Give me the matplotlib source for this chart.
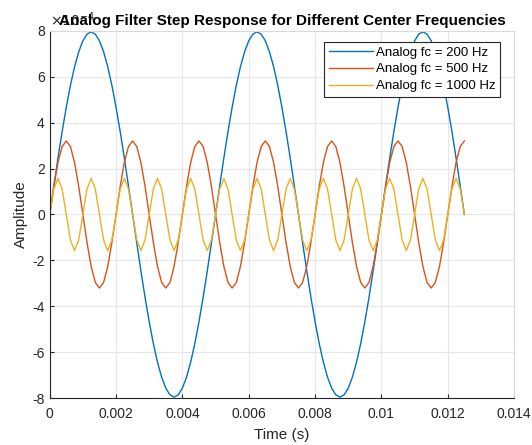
import matplotlib
matplotlib.use("Agg")
import matplotlib.pyplot as plt
import numpy as np

plt.rcParams['font.family'] = ['Liberation Sans', 'DejaVu Sans']
plt.rcParams['axes.unicode_minus'] = False

# sample times (s), 8 kHz sampling
fs = 8000
n_samples = 101

# Analog fc = 200 Hz (x1e-4)
y_200 = [0, 1.24, 2.46, 3.61, 4.67, 5.62, 6.43, 7.08, 7.56, 7.85,
         7.95, 7.85, 7.56, 7.08, 6.43, 5.62, 4.67, 3.61, 2.46, 1.24,
         0, -1.24, -2.46, -3.61, -4.67, -5.62, -6.43, -7.08, -7.56, -7.85,
         -7.95, -7.85, -7.56, -7.08, -6.43, -5.62, -4.67, -3.61, -2.46, -1.24,
         0, 1.24, 2.46, 3.61, 4.67, 5.62, 6.43, 7.08, 7.56, 7.85,
         7.95, 7.85, 7.56, 7.08, 6.43, 5.62, 4.67, 3.61, 2.46, 1.24,
         0, -1.24, -2.46, -3.61, -4.67, -5.62, -6.43, -7.08, -7.56, -7.85,
         -7.95, -7.85, -7.56, -7.08, -6.43, -5.62, -4.67, -3.61, -2.46, -1.24,
         0, 1.24, 2.46, 3.61, 4.67, 5.62, 6.43, 7.08, 7.56, 7.85,
         7.95, 7.85, 7.56, 7.08, 6.43, 5.62, 4.67, 3.61, 2.46, 1.24,
         0]

# Analog fc = 500 Hz
y_500 = [0, 1.22, 2.26, 2.96, 3.2, 2.96, 2.26, 1.22,
         0, -1.22, -2.26, -2.96, -3.2, -2.96, -2.26, -1.22,
         0, 1.22, 2.26, 2.96, 3.2, 2.96, 2.26, 1.22,
         0, -1.22, -2.26, -2.96, -3.2, -2.96, -2.26, -1.22,
         0, 1.22, 2.26, 2.96, 3.2, 2.96, 2.26, 1.22,
         0, -1.22, -2.26, -2.96, -3.2, -2.96, -2.26, -1.22,
         0, 1.22, 2.26, 2.96, 3.2, 2.96, 2.26, 1.22,
         0, -1.22, -2.26, -2.96, -3.2, -2.96, -2.26, -1.22,
         0, 1.22, 2.26, 2.96, 3.2, 2.96, 2.26, 1.22,
         0, -1.22, -2.26, -2.96, -3.2, -2.96, -2.26, -1.22,
         0, 1.22, 2.26, 2.96, 3.2, 2.96, 2.26, 1.22,
         0, -1.22, -2.26, -2.96, -3.2, -2.96, -2.26, -1.22,
         0, 1.22, 2.26, 2.96, 3.2]

# Analog fc = 1000 Hz
y_1000 = [0, 1.11, 1.57, 1.11, 0, -1.11, -1.57, -1.11,
          0, 1.11, 1.57, 1.11, 0, -1.11, -1.57, -1.11,
          0, 1.11, 1.57, 1.11, 0, -1.11, -1.57, -1.11,
          0, 1.11, 1.57, 1.11, 0, -1.11, -1.57, -1.11,
          0, 1.11, 1.57, 1.11, 0, -1.11, -1.57, -1.11,
          0, 1.11, 1.57, 1.11, 0, -1.11, -1.57, -1.11,
          0, 1.11, 1.57, 1.11, 0, -1.11, -1.57, -1.11,
          0, 1.11, 1.57, 1.11, 0, -1.11, -1.57, -1.11,
          0, 1.11, 1.57, 1.11, 0, -1.11, -1.57, -1.11,
          0, 1.11, 1.57, 1.11, 0, -1.11, -1.57, -1.11,
          0, 1.11, 1.57, 1.11, 0, -1.11, -1.57, -1.11,
          0, 1.11, 1.57, 1.11, 0, -1.11, -1.57, -1.11,
          0, 1.11, 1.57, 1.11, 0]

labels = ['Analog fc = 200 Hz', 'Analog fc = 500 Hz', 'Analog fc = 1000 Hz']
colors = ['#0072BD', '#D95319', '#EDB120']

t = np.arange(n_samples) / fs

fig = plt.figure(figsize=(5.32, 4.45), dpi=100)
ax = fig.add_axes([0.0934, 0.105, 0.873, 0.826])

for y, lab, c in zip([y_200, y_500, y_1000], labels, colors):
    ax.plot(t, y, color=c, lw=1.0, label=lab)

ax.set_xlim(0, 0.014)
ax.set_ylim(-8, 8)
ax.set_xticks([0, 0.002, 0.004, 0.006, 0.008, 0.01, 0.012, 0.014])
ax.set_xticklabels(['0', '0.002', '0.004', '0.006', '0.008', '0.01', '0.012', '0.014'])
ax.set_yticks(range(-8, 9, 2))
ax.grid(True, color='#e6e6e6', lw=0.8)
ax.set_axisbelow(True)
ax.tick_params(direction='in', length=3, labelsize=10, colors='#262626', width=0.8)
ax.tick_params(axis='x', pad=6)
for s in ['left', 'bottom']:
    ax.spines[s].set_color('#262626')
    ax.spines[s].set_linewidth(0.8)
for s in ['top', 'right']:
    ax.spines[s].set_color('#d9d9d9')
    ax.spines[s].set_linewidth(0.8)

ax.set_xlabel('Time (s)', fontsize=11, color='#262626', labelpad=5)
ax.set_ylabel('Amplitude', fontsize=11, color='#262626', labelpad=3)

# exponent label partly hidden behind the title, like the original
ax.text(0.0, 1.005, r'$\times10^{-4}$', transform=ax.transAxes, fontsize=10,
        color='#262626', ha='left', va='bottom', zorder=1)
ax.set_title('Analog Filter Step Response for Different Center Frequencies',
             fontsize=11, fontweight='bold', color='black', pad=4)

leg = ax.legend(loc='upper right', bbox_to_anchor=(0.97, 0.97), fontsize=9.5,
                frameon=True, fancybox=False, edgecolor='#262626', framealpha=1,
                handlelength=3.3, handletextpad=0.25, borderpad=0.35,
                labelspacing=0.35, borderaxespad=0)
leg.get_frame().set_linewidth(0.8)

fig.savefig('out.png', dpi=100)
